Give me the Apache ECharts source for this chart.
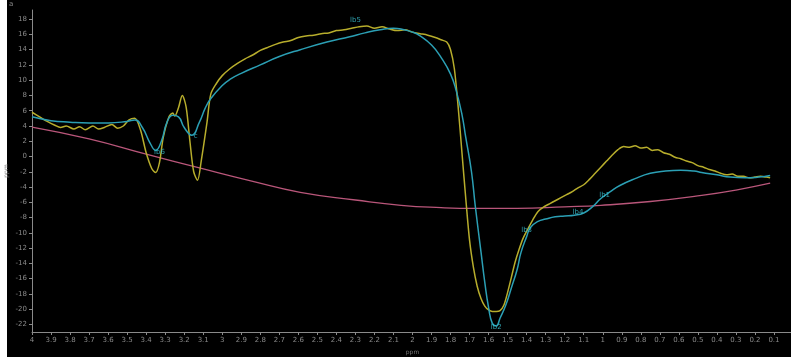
<!DOCTYPE html>
<html><head><meta charset="utf-8">
<script src="https://cdn.jsdelivr.net/npm/echarts@6/dist/echarts.min.js"></script>
<style>html,body{margin:0;padding:0;background:#000;}#c{width:791px;height:357px;}</style>
</head><body><div id="c"></div>
<script>
// ppm positions (x) and intensities (y)
const fitX = [4.0,3.9,3.8,3.7,3.6,3.5,3.46,3.42,3.38,3.35,3.32,3.29,3.26,3.23,3.2,3.16,3.12,3.09,3.06,3.0,2.96,2.9,2.8,2.7,2.59,2.45,2.33,2.25,2.17,2.1,2.06,2.0,1.96,1.9,1.85,1.8,1.77,1.74,1.72,1.69,1.67,1.64,1.62,1.6,1.58,1.56,1.54,1.51,1.48,1.45,1.43,1.4,1.38,1.34,1.3,1.25,1.2,1.15,1.1,1.05,1.01,0.96,0.91,0.83,0.75,0.67,0.59,0.52,0.48,0.4,0.33,0.25,0.18,0.12];
const fitY = [5.2,4.7,4.5,4.4,4.4,4.6,4.8,3.8,1.8,0.8,2.0,4.5,5.4,5.2,3.8,2.8,4.5,6.3,7.6,9.3,10.1,10.9,12.0,13.1,14.0,15.0,15.7,16.2,16.6,16.8,16.7,16.3,15.8,14.6,13.0,10.8,8.6,5.5,2.5,-2.0,-6.5,-12.5,-16.5,-19.8,-21.9,-22.2,-21.2,-19.5,-17.2,-14.8,-12.6,-10.5,-9.3,-8.5,-8.2,-7.9,-7.8,-7.7,-7.4,-6.5,-5.5,-4.6,-3.8,-2.9,-2.2,-1.9,-1.8,-1.9,-2.1,-2.4,-2.7,-2.8,-2.7,-2.5];
const specX = [4.0,3.96,3.92,3.88,3.85,3.82,3.78,3.75,3.72,3.68,3.65,3.62,3.58,3.55,3.52,3.49,3.46,3.43,3.4,3.37,3.35,3.33,3.31,3.28,3.26,3.25,3.23,3.21,3.19,3.17,3.15,3.13,3.11,3.08,3.06,3.03,3.0,2.96,2.92,2.88,2.84,2.8,2.76,2.72,2.68,2.64,2.6,2.56,2.52,2.48,2.44,2.4,2.36,2.32,2.28,2.24,2.2,2.16,2.12,2.08,2.04,2.0,1.96,1.92,1.88,1.85,1.82,1.8,1.78,1.76,1.74,1.72,1.7,1.68,1.66,1.64,1.62,1.6,1.58,1.56,1.54,1.52,1.5,1.48,1.46,1.44,1.42,1.4,1.37,1.34,1.31,1.28,1.25,1.22,1.19,1.16,1.13,1.1,1.07,1.04,1.01,0.98,0.95,0.92,0.89,0.86,0.83,0.8,0.77,0.74,0.71,0.68,0.65,0.62,0.59,0.56,0.53,0.5,0.47,0.44,0.41,0.38,0.35,0.32,0.29,0.26,0.23,0.2,0.17,0.14,0.12];
const specY = [5.8,5.2,4.6,4.1,3.8,4.0,3.6,3.9,3.5,4.0,3.6,3.8,4.2,3.7,4.0,4.8,5.0,3.5,0.5,-1.6,-2.1,-0.8,2.5,5.2,5.7,5.3,6.4,8.0,6.5,2.0,-2.0,-3.1,-0.5,4.5,8.2,9.6,10.6,11.5,12.2,12.8,13.3,13.9,14.3,14.7,15.0,15.2,15.6,15.8,15.9,16.1,16.2,16.5,16.6,16.8,17.0,17.1,16.8,17.0,16.7,16.5,16.6,16.3,16.1,15.9,15.6,15.3,15.0,14.0,11.5,6.5,0.5,-5.5,-11.0,-14.5,-17.0,-18.6,-19.6,-20.1,-20.3,-20.3,-20.2,-19.5,-17.8,-15.8,-13.8,-12.2,-10.8,-9.8,-8.4,-7.2,-6.6,-6.2,-5.8,-5.4,-5.0,-4.6,-4.1,-3.7,-3.0,-2.2,-1.4,-0.6,0.2,0.9,1.3,1.2,1.4,1.1,1.2,0.8,0.9,0.5,0.3,-0.1,-0.3,-0.6,-0.8,-1.2,-1.4,-1.7,-1.9,-2.2,-2.4,-2.3,-2.6,-2.6,-2.8,-2.7,-2.6,-2.7,-2.8,-2.7];
const baseX = [4.0,3.7,3.4,3.12,2.85,2.59,2.3,2.06,1.85,1.67,1.45,1.2,1.01,0.75,0.48,0.3,0.12];
const baseY = [3.85,2.3,0.3,-1.5,-3.2,-4.7,-5.7,-6.4,-6.7,-6.8,-6.8,-6.6,-6.4,-5.9,-5.1,-4.4,-3.5];
const peakLabels = [["lb6",3.33,0.6],["c",3.14,2.7],["lb5",2.3,17.9],["lb2",1.56,-22.4],["lb3",1.40,-9.6],["lb4",1.13,-7.3],["lb1",0.99,-5.1]];
const xTicks = [4.0,3.9,3.8,3.7,3.6,3.5,3.4,3.3,3.2,3.1,3.0,2.9,2.8,2.7,2.6,2.5,2.4,2.3,2.2,2.1,2.0,1.9,1.8,1.7,1.6,1.5,1.4,1.3,1.2,1.1,1.0,0.9,0.8,0.7,0.6,0.5,0.4,0.3,0.2,0.1];
const yTicks = [-22,-20,-18,-16,-14,-12,-10,-8,-6,-4,-2,0,2,4,6,8,10,12,14,16,18];

const zip = (a,b)=>a.map((v,i)=>[v,b[i]]);
const chart = echarts.init(document.getElementById('c'));
chart.setOption({
  backgroundColor:'#000',
  animation:false,
  grid:{left:32,right:-2,top:10,bottom:25,containLabel:false,outerBoundsMode:'none'},
  xAxis:{type:'value',inverse:true,min:0,max:4,position:'bottom',
    name:'ppm',nameLocation:'middle',nameGap:17,nameMoveOverlap:false,nameTextStyle:{color:'#777',fontSize:6,fontFamily:'DejaVu Sans'},
    axisLine:{onZero:false,lineStyle:{color:'#8a8a8a',width:1}},
    axisTick:{show:true,length:3,customValues:xTicks,lineStyle:{color:'#8a8a8a'}},
    axisLabel:{color:'#8a8a8a',fontSize:7,fontFamily:'DejaVu Sans',margin:5,customValues:xTicks,
      formatter:v=>String(Math.round(v*10)/10)},
    splitLine:{show:false}},
  yAxis:{type:'value',min:-23,max:19.2,position:'left',
    name:'ppm',nameLocation:'middle',nameGap:23,nameMoveOverlap:false,nameRotate:90,nameTextStyle:{color:'#777',fontSize:6,fontFamily:'DejaVu Sans'},
    axisLine:{show:true,onZero:false,lineStyle:{color:'#8a8a8a',width:1}},
    axisTick:{show:true,length:3,customValues:yTicks,lineStyle:{color:'#8a8a8a'}},
    axisLabel:{color:'#8a8a8a',fontSize:7,fontFamily:'DejaVu Sans',margin:5,customValues:yTicks,
      formatter:v=>String(Math.round(v))},
    splitLine:{show:false}},
  series:[
    {type:'line',data:zip(baseX,baseY),smooth:true,showSymbol:false,lineStyle:{color:'#b9567a',width:1.3},z:1},
    {type:'line',data:zip(specX,specY),smooth:0.3,showSymbol:false,lineStyle:{color:'#b7ad2c',width:1.5},z:2},
    {type:'line',data:zip(fitX,fitY),smooth:true,showSymbol:false,lineStyle:{color:'#2b9fb4',width:1.5},z:3},
    {type:'scatter',data:peakLabels.map(p=>({value:[p[1],p[2]],name:p[0]})),symbolSize:0,
      label:{show:true,formatter:p=>p.name,color:'#3bc6d6',fontSize:7,fontFamily:'DejaVu Sans',position:'inside'},z:4}
  ],
  graphic:[
    {type:'rect',left:0,top:0,shape:{width:7,height:357},style:{fill:'#fff'}},
    {type:'text',left:9,top:1,style:{text:'a',fill:'#888',fontSize:7,fontFamily:'DejaVu Sans'}}
  ]
});
</script></body></html>
